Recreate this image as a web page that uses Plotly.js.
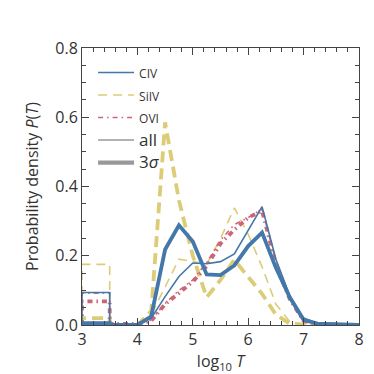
<!DOCTYPE html>
<html>
<head>
<meta charset="utf-8">
<script src="https://cdn.plot.ly/plotly-3.0.1.min.js"></script>
<style>
  html, body { margin: 0; padding: 0; background: #fff; }
  #chart { width: 374px; height: 374px; }
</style>
</head>
<body>
<div id="chart"></div>
<script>
// log10 T bin positions (first bin drawn as a box from 3 to 3.5)
const logT = [3, 3, 3.5, 3.5, 3.75, 4, 4.25, 4.5, 4.75, 5, 5.25, 5.5, 5.75, 6, 6.25, 6.5, 6.75, 7, 7.25, 7.5, 7.75, 8];

// probability densities
const civAll  = [0, 0.094, 0.094, 0, 0, 0, 0.02, 0.082, 0.14, 0.179, 0.177, 0.183, 0.205, 0.275, 0.342, 0.19, 0.085, 0.02, 0.005, 0.002, 0.001, 0];
const civ3s   = [0, 0.005, 0.005, 0, 0, 0, 0.025, 0.218, 0.288, 0.241, 0.146, 0.144, 0.172, 0.228, 0.267, 0.165, 0.08, 0.015, 0.004, 0.002, 0.001, 0];
const siivAll = [0, 0.175, 0.175, 0, 0, 0, 0.03, 0.11, 0.19, 0.184, 0.175, 0.25, 0.338, 0.262, 0.168, 0.06, 0.01, 0.002, 0, 0, 0, 0];
const siiv3s  = [0, 0.02, 0.02, 0, 0, 0, 0.04, 0.585, 0.36, 0.2, 0.08, 0.13, 0.188, 0.14, 0.09, 0.03, 0.004, 0.001, 0, 0, 0, 0];
const oviAll  = [0, 0.092, 0.092, 0.003, 0.003, 0.003, 0.015, 0.062, 0.1, 0.13, 0.18, 0.245, 0.29, 0.31, 0.335, 0.185, 0.08, 0.015, 0.004, 0.002, 0.001, 0];
const ovi3s   = [0, 0.068, 0.068, 0.003, 0.003, 0.003, 0.012, 0.06, 0.092, 0.125, 0.17, 0.235, 0.275, 0.31, 0.33, 0.175, 0.075, 0.012, 0.003, 0.001, 0, 0];

const yTicks = [0, 0.2, 0.4, 0.6, 0.8];
const yTickText = ["0.0", "0.2", "0.4", "0.6", "0.8"];
const xTicks = [3, 4, 5, 6, 7, 8];

const BLUE = "#4477aa";
const YELLOW = "#ddcc77";
const PINK = "#cc6677";
const GREY = "#999999";

const THIN = 1.6;
const THICK = 3.8;

function line(y, color, width, dash) {
  return {
    x: logT, y: y,
    type: "scatter", mode: "lines",
    line: { color: color, width: width, dash: dash },
    showlegend: false, hoverinfo: "skip"
  };
}

function key(name, color, width, dash) {
  return {
    x: [null], y: [null],
    type: "scatter", mode: "lines",
    name: name,
    line: { color: color, width: width, dash: dash },
    showlegend: true
  };
}

const small = s => "<span style='font-size:12px'>" + s + "</span>";
const big = s => "<span style='font-size:17px'>" + s + "</span>";

const traces = [
  line(siiv3s, YELLOW, THICK, "11px,6px"),
  line(siivAll, YELLOW, THIN, "9px,6px"),
  line(ovi3s, PINK, THICK, "5px,4px,1.5px,4px"),
  line(oviAll, PINK, THIN, "5px,4px,1.5px,4px"),
  line(civAll, BLUE, THIN, "solid"),
  line(civ3s, BLUE, THICK, "solid"),
  key(small("CIV"), BLUE, THIN, "solid"),
  key(small("SiIV"), YELLOW, THIN, "9px,6px"),
  key(small("OVI"), PINK, THIN, "5px,4px,1.5px,4px"),
  key(big("all"), GREY, THIN, "solid"),
  key(big("3<i>σ</i>"), GREY, THICK + 0.4, "solid")
];

const axisCommon = {
  showline: true, linecolor: "#444", linewidth: 1,
  mirror: "ticks", ticks: "inside", ticklen: 7, tickcolor: "#444", tickwidth: 1,
  showgrid: false, zeroline: false,
  tickfont: { size: 16, color: "#333" }
};

const layout = {
  width: 374, height: 374,
  margin: { l: 82, r: 15, t: 48, b: 49 },
  paper_bgcolor: "#fff", plot_bgcolor: "#fff",
  font: { family: "Open Sans, DejaVu Sans, sans-serif", color: "#333" },
  xaxis: Object.assign({}, axisCommon, {
    range: [3, 8], tickvals: xTicks,
    minor: { dtick: 0.2, tick0: 3, ticks: "inside", ticklen: 4, tickcolor: "#444" },
    title: { text: "log<sub>10</sub> <i>T</i>", font: { size: 16, color: "#333" }, standoff: 4 }
  }),
  yaxis: Object.assign({}, axisCommon, {
    range: [0, 0.8], tickvals: yTicks, ticktext: yTickText,
    minor: { dtick: 0.05, tick0: 0, ticks: "inside", ticklen: 4, tickcolor: "#444" },
    title: { text: "Probability density <i>P</i>(<i>T</i>)", font: { size: 16, color: "#333" }, standoff: 12 }
  }),
  legend: {
    x: 0.04, y: 0.97, xanchor: "left", yanchor: "top",
    bgcolor: "rgba(0,0,0,0)", borderwidth: 0,
    font: { size: 15, color: "#333" },
    tracegroupgap: 0, itemwidth: 36
  },
  showlegend: true
};

Plotly.newPlot("chart", traces, layout, { staticPlot: true, displayModeBar: false });
</script>
</body>
</html>
